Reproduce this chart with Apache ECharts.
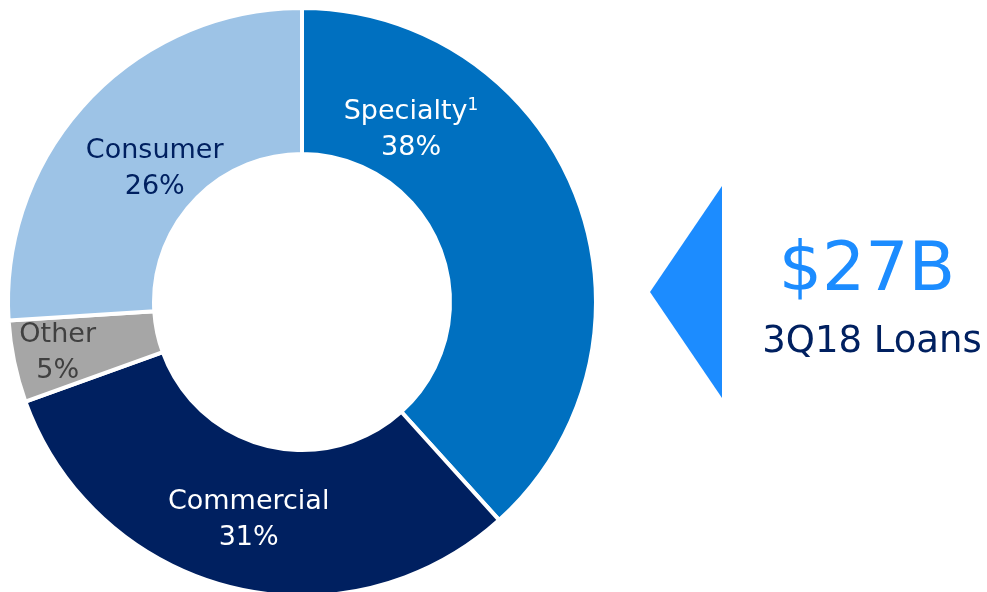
<!DOCTYPE html>
<html><head><meta charset="utf-8">
<script src="https://cdn.jsdelivr.net/npm/echarts@6/dist/echarts.min.js"></script>
<style>html,body{margin:0;padding:0;background:#fff}#c{width:987px;height:592px}</style>
</head><body><div id="c"></div>
<script>
const categories = ['Specialty', 'Commercial', 'Other', 'Consumer'];
const shares = [38.3, 31.2, 4.5, 26.0];
const shareLabels = ['38%', '31%', '5%', '26%'];
const totalText = '$27B';
const subtitleText = '3Q18 Loans';

const colors = ['#0070C0', '#002060', '#A6A6A6', '#9DC3E6'];
const labelColors = ['#ffffff', '#ffffff', '#404040', '#002060'];
const labelOffsets = [[-100, -92], [1, 1], [-25, 6], [16, 20]];

const chart = echarts.init(document.getElementById('c'));
const data = categories.map((name, i) => ({
  name, value: shares[i],
  itemStyle: { color: colors[i] },
  label: {
    color: labelColors[i],
    offset: labelOffsets[i],
    formatter: name === 'Specialty'
      ? '{a|' + name + '}{sup|1}\n{a|' + shareLabels[i] + '}'
      : '{a|' + name + '}\n{a|' + shareLabels[i] + '}',
    rich: {
      a: { fontSize: 27, lineHeight: 36, color: labelColors[i], fontFamily: 'DejaVu Sans' },
      sup: { fontSize: 17, lineHeight: 36, color: labelColors[i], fontFamily: 'DejaVu Sans', padding: [0, 0, 12, 0] }
    }
  }
}));

chart.setOption({
  backgroundColor: '#ffffff',
  animation: false,
  series: [{
    type: 'pie',
    center: [302, 302],
    radius: [148, 294],
    startAngle: 90,
    clockwise: true,
    avoidLabelOverlap: false,
    itemStyle: { borderColor: '#ffffff', borderWidth: 4 },
    label: { show: true, position: 'inside', align: 'center', fontFamily: 'DejaVu Sans', fontSize: 27, lineHeight: 36 },
    labelLine: { show: false },
    emphasis: { disabled: true },
    data
  }],
  graphic: [
    { type: 'polygon', shape: { points: [[650, 292], [722, 186], [722, 398]] }, style: { fill: '#1C8CFF' } },
    { type: 'text', x: 867, y: 272, style: { text: totalText, fill: '#1C8CFF', font: '68px "DejaVu Sans"', align: 'center', verticalAlign: 'middle' } },
    { type: 'text', x: 872, y: 342, style: { text: subtitleText, fill: '#002060', font: '37px "DejaVu Sans"', align: 'center', verticalAlign: 'middle' } }
  ]
});
</script></body></html>
